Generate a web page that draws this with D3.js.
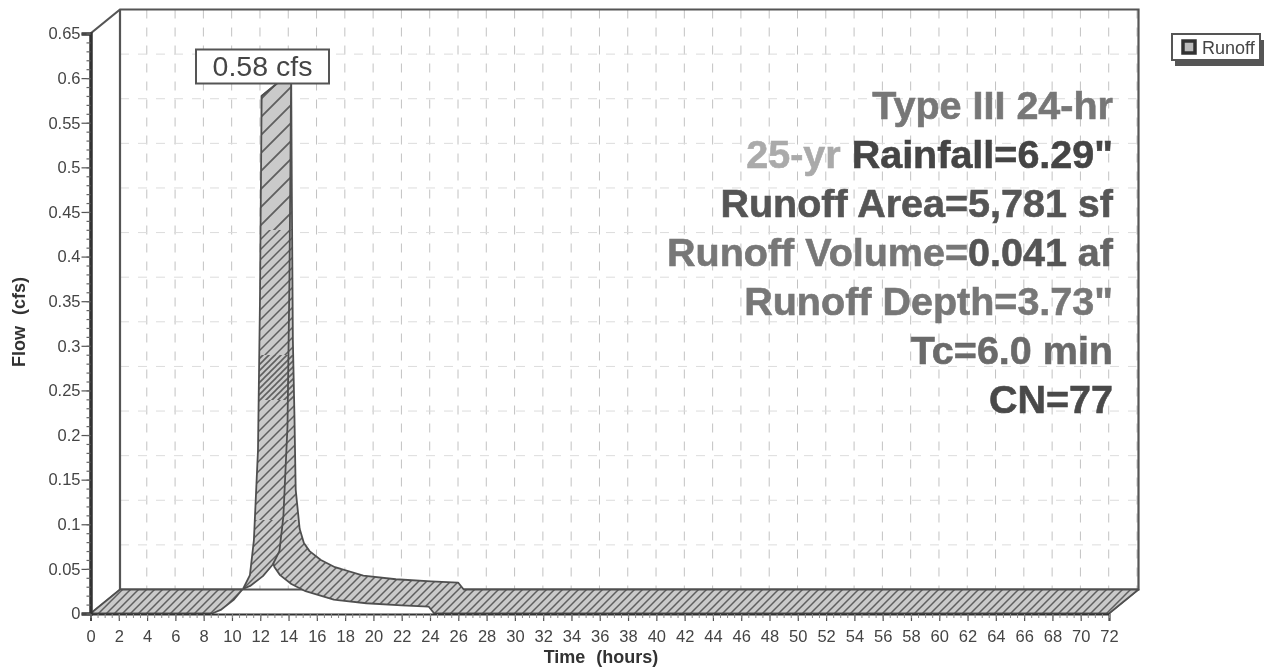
<!DOCTYPE html>
<html><head><meta charset="utf-8">
<script src="https://cdn.jsdelivr.net/npm/d3@7/dist/d3.min.js"></script>
<style>html,body{margin:0;background:#fff}svg{display:block;font-family:"Liberation Sans",Arial,sans-serif}</style>
</head><body><svg id="c" width="1265" height="667"></svg>
<script>
const hours = [0,8.6,9.2,10.1,10.8,11.27,11.55,11.84,11.98,12.1,12.15,12.22,12.33,12.42,12.7,13.0,13.4,14.2,15.2,17.2,19.5,22,23.9,24.3,72];
const flows = [0,0,.004,.015,.028,.043,.082,.183,.35,.58,.44,.28,.196,.112,.068,.052,.043,.033,.025,.0155,.0115,.0092,.0078,0,0];
const peakIndex = 9;
const yTicks = [0,.05,.1,.15,.2,.25,.3,.35,.4,.45,.5,.55,.6,.65];
const yLabels = ["0","0.05","0.1","0.15","0.2","0.25","0.3","0.35","0.4","0.45","0.5","0.55","0.6","0.65"];
const xTicks = d3.range(0,73,2);
const noteLines = [
 [["Type III 24-hr","#777"]],
 [["25-yr ","#aaa"],["Rainfall=6.29\"","#444"]],
 [["Runoff Area=5,781 sf","#555"]],
 [["Runoff Volume=","#777"],["0.041","#555"],[" af","#666"]],
 [["Runoff Depth=3.73\"","#777"]],
 [["Tc=6.0 min","#6a6a6a"]],
 [["CN=77","#4a4a4a"]]
];
const peakLabel = "0.58 cfs", legendLabel = "Runoff", xTitle = "Time (hours)", yTitle = "Flow (cfs)";

const depthX = 29.5, depthY = -24;
const x = d3.scaleLinear().domain([0,72]).range([90.5,1109]);
const y = d3.scaleLinear().domain([0,.65]).range([613.5,33.5]);
const svg = d3.select("#c");
const defs = svg.append("defs");
function hatch(id,size,w){
  const p = defs.append("pattern").attr("id",id).attr("width",size).attr("height",size).attr("patternUnits","userSpaceOnUse");
  p.append("rect").attr("width",size).attr("height",size).attr("fill","#cacaca");
  p.append("path").attr("d",`M${-size/2},${size/2}L${size/2},${-size/2}M0,${size}L${size},0M${size/2},${size*1.5}L${size*1.5},${size/2}`).attr("stroke","#5e5e5e").attr("stroke-width",w);
}
hatch("hBase",8,1.5); hatch("hMid",10,1.5); hatch("hWide",18,1.8); hatch("hTight",6,1.6);
const bands = [["hWide",0,230],["hMid",230,355],["hTight",355,400],["hMid",400,520],["hBase",520,667]];
bands.forEach(([id,a,b])=>defs.append("clipPath").attr("id","clip"+a).append("rect").attr("x",0).attr("y",a).attr("width",1265).attr("height",b-a));
defs.append("filter").attr("id","soft").append("feGaussianBlur").attr("stdDeviation",.5);
const root = svg.append("g").attr("filter","url(#soft)");

// back-wall grid
const grid = root.append("g").attr("fill","none").attr("stroke","#c2c2c2").attr("stroke-width",1).attr("stroke-dasharray","9 9");
grid.selectAll(".v").data(xTicks.slice(1)).join("line").attr("x1",d=>x(d)+28).attr("x2",d=>x(d)+28)
  .attr("y1",y(.65)+depthY).attr("y2",y(0)+depthY);
grid.selectAll(".h").data(yTicks.slice(1,-1)).join("line").attr("x1",x(0)+depthX).attr("x2",x(72)+depthX-2)
  .attr("y1",d=>y(d)+depthY).attr("y2",d=>y(d)+depthY).attr("stroke","#dcdcdc");

// frame
const frame = root.append("g").attr("fill","none").attr("stroke","#555");
const corner = (t,q,back)=>[x(t)+(back?depthX:0),y(q)+(back?depthY:0)];
const line = d3.line();
frame.append("path").attr("stroke-width",2.2).attr("d",line([corner(0,.65,0),corner(0,.65,1),corner(72,.65,1),corner(72,0,1),corner(0,0,1),corner(0,.65,1)]));
frame.append("path").attr("stroke-width",1.4).attr("d",line([corner(0,0,0),corner(0,0,1)]));
frame.append("path").attr("stroke-width",1.4).attr("d",line([corner(72,0,0),corner(72,0,1)]));

// ribbon
const pts = hours.map((h,i)=>({h,q:flows[i]}));
const front = d=>d.map(p=>corner(p.h,p.q,0));
const back = d=>d.map(p=>corner(p.h,p.q,1));
const ribbon = d=>line(front(d).concat(back(d).reverse()))+"Z";
const falling = pts.slice(peakIndex), rising = pts.slice(0,peakIndex+1);
[falling,rising].forEach(seg=>{
  bands.forEach(([id,a])=>root.append("path").attr("d",ribbon(seg)).attr("fill",`url(#${id})`).attr("clip-path",`url(#clip${a})`));
  root.append("path").attr("d",ribbon(seg)).attr("fill","none").attr("stroke","#505050").attr("stroke-width",1.8).attr("stroke-linejoin","round");
});

// axes
const fmtY = d=>yLabels[yTicks.indexOf(d)];
const ax = root.append("g").attr("transform",`translate(0,${y(0)+.5})`)
  .call(d3.axisBottom(x).tickValues(xTicks).tickSize(7).tickPadding(9.5).tickFormat(d3.format("d")));
const ay = root.append("g").attr("transform",`translate(${x(0)},0)`)
  .call(d3.axisLeft(y).tickValues(yTicks).tickSize(9).tickPadding(1).tickFormat(fmtY));
[ax,ay].forEach(a=>{a.selectAll("text").attr("font-size",16.5).attr("font-family","Liberation Sans").attr("fill","#444");
  a.selectAll("line").attr("stroke","#555").attr("stroke-width",1.2);a.select(".domain").attr("stroke","#333").attr("stroke-width",2);});
ay.select(".domain").attr("stroke-width",3.5);
const minorX = root.append("g").attr("transform",`translate(0,${y(0)+.5})`)
  .call(d3.axisBottom(x).tickValues(d3.range(0,72.01,.5)).tickSize(4).tickFormat(""));
minorX.selectAll("line").attr("stroke","#888");minorX.select(".domain").remove();
const minorY = root.append("g").attr("transform",`translate(${x(0)},0)`)
  .call(d3.axisLeft(y).tickValues(d3.range(0,.6501,.01)).tickSize(4).tickFormat(""));
minorY.selectAll("line").attr("stroke","#666").attr("stroke-width",1.2);minorY.select(".domain").remove();

// titles
root.append("text").attr("x",601).attr("y",663).attr("text-anchor","middle").attr("font-weight","bold").attr("font-size",18).attr("word-spacing",6).attr("fill","#333").text(xTitle);
root.append("text").attr("transform","translate(25,322) rotate(-90)").attr("text-anchor","middle").attr("font-weight","bold").attr("font-size",18).attr("word-spacing",6).attr("fill","#333").text(yTitle);

// peak label
root.append("rect").attr("x",196).attr("y",49.5).attr("width",133).attr("height",34).attr("fill","#fff").attr("stroke","#555").attr("stroke-width",2);
root.append("text").attr("x",262.5).attr("y",76).attr("text-anchor","middle").attr("font-size",28.5).attr("fill","#444").text(peakLabel);

// notes
const note = root.append("g").attr("font-weight","bold").attr("font-size",39.5).attr("text-anchor","end");
const noteY = d3.scaleLinear().domain([0,6]).range([118.5,413]);
noteLines.forEach((l,i)=>{
  const t = note.append("text").attr("x",1113).attr("y",noteY(i));
  l.forEach(([s,c])=>t.append("tspan").attr("fill",c).attr("stroke",c).attr("stroke-width",.6).attr("xml:space","preserve").text(s));
});

// legend
root.append("rect").attr("x",1175).attr("y",40).attr("width",89).attr("height",26).attr("fill","#555");
root.append("rect").attr("x",1172).attr("y",34).attr("width",88).attr("height",26).attr("fill","#fff").attr("stroke","#555").attr("stroke-width",2);
root.append("rect").attr("x",1183).attr("y",41).attr("width",12).attr("height",12).attr("fill","#bbb").attr("stroke","#333").attr("stroke-width",3.5);
root.append("text").attr("x",1202).attr("y",53.5).attr("font-size",18).attr("fill","#444").text(legendLabel);
</script></body></html>
